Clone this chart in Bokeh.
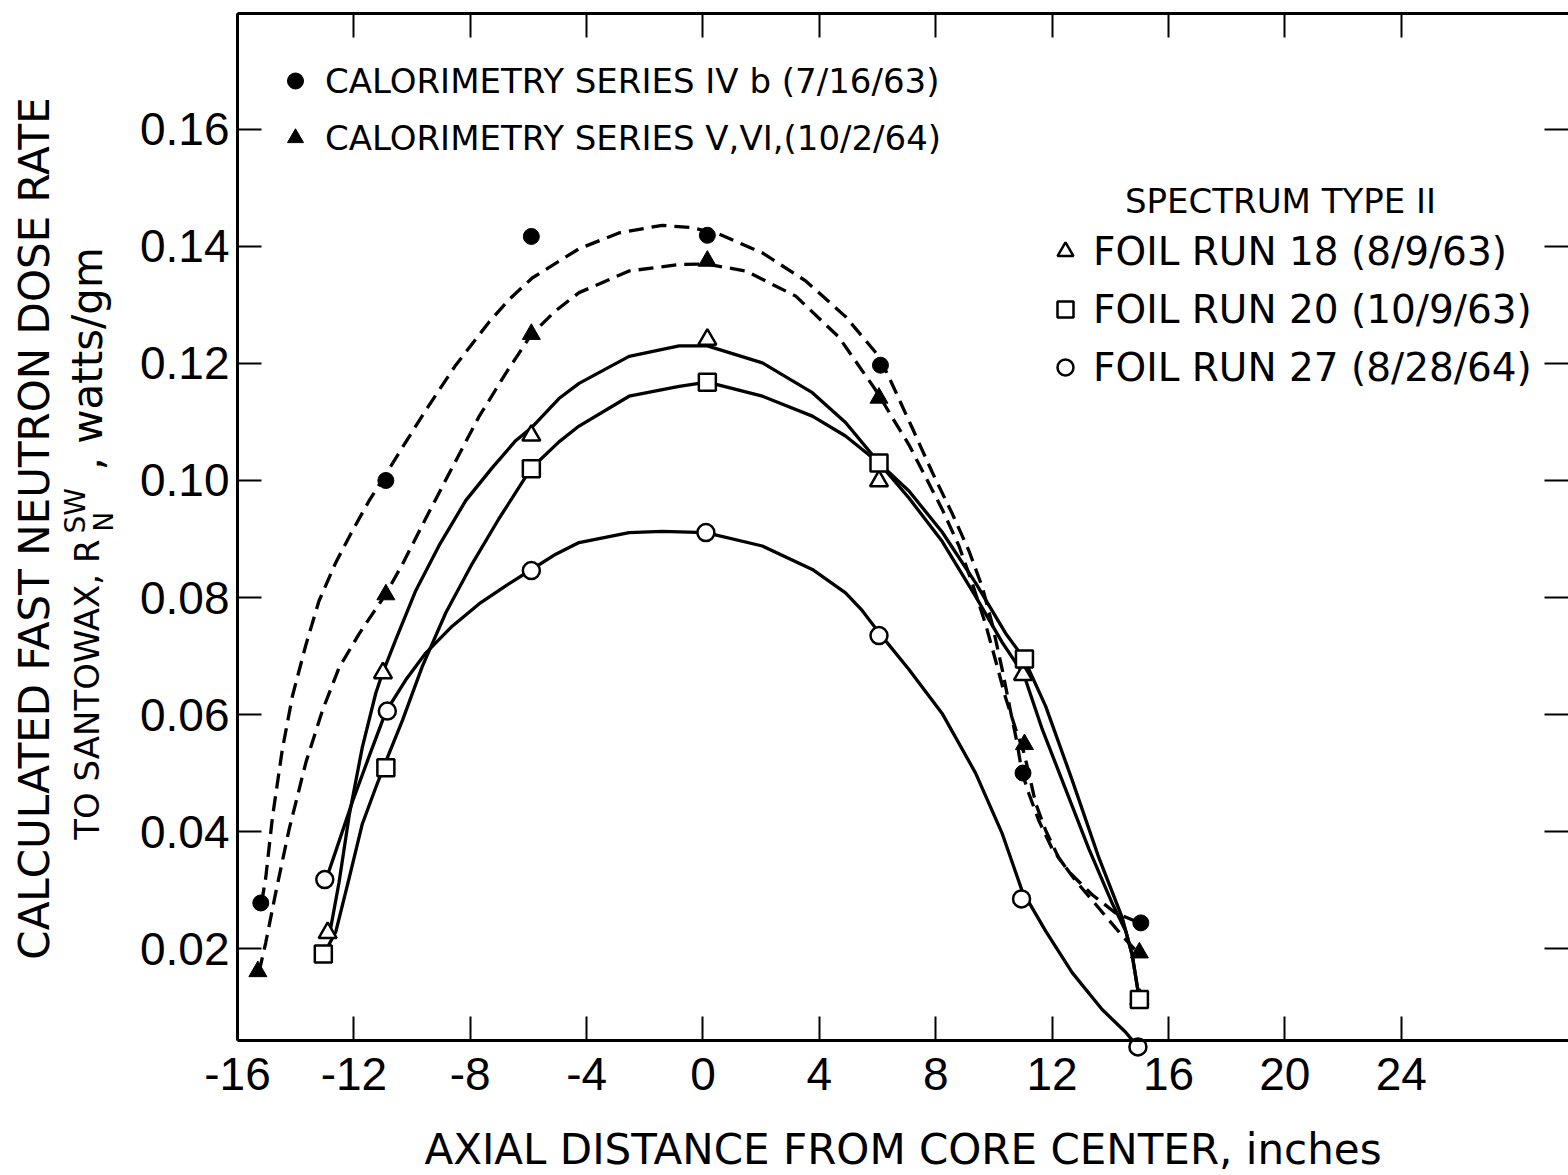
import math
from bokeh.plotting import figure
from bokeh.models import (Range1d, LinearAxis, FixedTicker, PrintfTickFormatter,
                          Legend, LegendItem, Label)
from bokeh.embed import file_html
from bokeh.resources import INLINE

# ---------------- data ----------------
x_tick_values = [-16, -12, -8, -4, 0, 4, 8, 12, 16, 20, 24]
y_tick_values = [0.02, 0.04, 0.06, 0.08, 0.10, 0.12, 0.14, 0.16]

x_title = "AXIAL DISTANCE FROM CORE CENTER, inches"
y_title_line1 = "CALCULATED FAST NEUTRON DOSE RATE"
y_title_line2_main = "TO SANTOWAX, R"
y_title_sup = "SW"
y_title_sub = "N"
y_title_line2_tail = ", watts/gm"

cal_labels = ["CALORIMETRY SERIES IV b (7/16/63)",
              "CALORIMETRY SERIES V,VI,(10/2/64)"]
spectrum_title = "SPECTRUM TYPE II"
foil_labels = ["FOIL RUN 18 (8/9/63)",
               "FOIL RUN 20 (10/9/63)",
               "FOIL RUN 27 (8/28/64)"]

# measured points
cal_ivb_x = [-15.2, -10.9, -5.9, 0.15, 6.1, 11.0, 15.05]
cal_ivb_y = [0.0278, 0.100, 0.1417, 0.1419, 0.1197, 0.0500, 0.0244]
cal_vvi_x = [-15.3, -10.9, -5.9, 0.15, 6.05, 11.05, 15.0]
cal_vvi_y = [0.0161, 0.0805, 0.1250, 0.1375, 0.1141, 0.0549, 0.0193]
foil18_x = [-12.9, -11.0, -5.9, 0.15, 6.05, 11.0, 15.0]
foil18_y = [0.0227, 0.0671, 0.1077, 0.1241, 0.0999, 0.0668, 0.0113]
foil20_x = [-13.05, -10.9, -5.9, 0.15, 6.05, 11.05, 15.0]
foil20_y = [0.0191, 0.0509, 0.1020, 0.1168, 0.1030, 0.0695, 0.0113]
foil27_x = [-13.0, -10.85, -5.9, 0.1, 6.05, 10.95, 14.95]
foil27_y = [0.0318, 0.0606, 0.0846, 0.0911, 0.0735, 0.0285, 0.0032]

# hand-drawn fitted curves
curve_ivb_x = [-15.17, -15.03, -14.8, -14.46, -14.11, -13.65, -13.2, -12.62, -12.05, -11.48,
               -10.9, -10.45, -9.53, -8.5, -7.35, -6.67, -5.87, -4.26, -2.89, -1.4,
               -0.37, 0.55, 2.04, 3.53, 4.9, 6.05, 6.5, 7.19, 7.88, 8.57,
               9.14, 9.6, 9.94, 10.29, 10.57, 10.8, 10.96, 11.2, 11.55, 12.0,
               12.58, 13.38, 14.18, 15.0]
curve_ivb_y = [0.0279, 0.0321, 0.0424, 0.0540, 0.0632, 0.0719, 0.0794, 0.0860, 0.0914, 0.0965,
               0.1011, 0.1047, 0.1120, 0.1197, 0.1271, 0.1309, 0.1346, 0.1396, 0.1423, 0.1436,
               0.1432, 0.1421, 0.1389, 0.1341, 0.1280, 0.1212, 0.1165, 0.1090, 0.1014, 0.0943,
               0.0880, 0.0818, 0.0755, 0.0676, 0.0606, 0.0551, 0.0502, 0.0465, 0.0418, 0.0371,
               0.0331, 0.0292, 0.0261, 0.0244]

curve_vvi_x = [-15.26, -15.03, -14.68, -14.23, -13.65, -13.08, -12.51, -11.82, -11.36, -10.9,
               -10.33, -9.53, -8.62, -7.7, -6.78, -5.92, -5.09, -4.26, -2.54, -0.82,
               0.1, 1.47, 3.19, 4.67, 6.0, 6.5, 7.08, 7.65, 8.22, 8.8,
               9.25, 9.71, 10.06, 10.4, 10.75, 11.03, 11.2, 11.43, 11.78, 12.23,
               12.81, 13.61, 14.41, 14.95]
curve_vvi_y = [0.0160, 0.0210, 0.0297, 0.0403, 0.0518, 0.0607, 0.0680, 0.0738, 0.0772, 0.0806,
               0.0857, 0.0935, 0.1022, 0.1109, 0.1183, 0.1248, 0.1289, 0.1321, 0.1358, 0.1369,
               0.1370, 0.1358, 0.1315, 0.1245, 0.1150, 0.1108, 0.1061, 0.1006, 0.0951, 0.0888,
               0.0825, 0.0755, 0.0692, 0.0629, 0.0575, 0.0535, 0.0500, 0.0449, 0.0402, 0.0355,
               0.0316, 0.0269, 0.0222, 0.0193]

curve_f18_x = [-12.85, -12.51, -12.16, -11.71, -11.25, -11.02, -10.56, -9.87, -9.07, -8.15,
               -7.24, -6.44, -5.9, -4.95, -4.26, -2.54, -0.82, 0.15, 2.04, 3.76,
               4.9, 6.05, 7.08, 8.22, 9.37, 10.29, 11.03, 11.66, 12.46, 13.26,
               14.07, 14.53, 14.75, 15.0]
curve_f18_y = [0.0221, 0.0313, 0.0428, 0.0544, 0.0636, 0.0670, 0.0728, 0.0812, 0.0889, 0.0966,
               0.1022, 0.1068, 0.1090, 0.1140, 0.1166, 0.1212, 0.1230, 0.1230, 0.1201, 0.1150,
               0.1099, 0.1030, 0.0970, 0.0896, 0.0802, 0.0723, 0.0668, 0.0575, 0.0473, 0.0371,
               0.0277, 0.0230, 0.0190, 0.0113]

curve_f20_x = [-13.08, -12.62, -12.16, -11.71, -11.25, -10.9, -10.33, -9.65, -8.84, -7.93,
               -7.01, -6.21, -5.92, -4.95, -4.26, -2.54, -0.82, 0.15, 2.04, 3.76,
               4.9, 6.05, 7.08, 8.22, 9.37, 10.4, 11.03, 11.78, 12.69, 13.61,
               14.41, 14.75, 15.0]
curve_f20_y = [0.0186, 0.0229, 0.0321, 0.0413, 0.0475, 0.0520, 0.0590, 0.0682, 0.0774, 0.0858,
               0.0935, 0.0997, 0.1020, 0.1066, 0.1093, 0.1144, 0.1161, 0.1168, 0.1144, 0.1110,
               0.1076, 0.1030, 0.0982, 0.0912, 0.0825, 0.0739, 0.0696, 0.0614, 0.0488, 0.0355,
               0.0253, 0.0190, 0.0113]

curve_f27_x = [-12.99, -12.62, -12.05, -11.48, -10.9, -10.22, -9.53, -8.62, -7.7, -6.78,
               -5.92, -5.06, -4.26, -2.54, -1.4, 0.1, 2.04, 3.76, 4.9, 5.47,
               6.05, 7.08, 8.22, 9.37, 10.29, 10.96, 11.78, 12.69, 13.72, 14.53,
               14.93]
curve_f27_y = [0.0313, 0.0367, 0.0451, 0.0528, 0.0605, 0.0659, 0.0705, 0.0751, 0.0789, 0.0820,
               0.0847, 0.0874, 0.0894, 0.0911, 0.0913, 0.0911, 0.0888, 0.0848, 0.0808, 0.0778,
               0.0740, 0.0677, 0.0602, 0.0500, 0.0396, 0.0300, 0.0230, 0.0159, 0.0096, 0.0057,
               0.0033]

# ---------------- layout ----------------
W, H = 1568, 1175
X_LO, X_HI = -16.0, 29.75          # plotted box, data units
Y_LO, Y_HI = 0.0043, 0.1798
BOX_L, BOX_R, BOX_T, BOX_B = 237, 1568, 13, 1040   # plotted box, canvas pixels
PX_X = (BOX_R - BOX_L) / (X_HI - X_LO)
PX_Y = (BOX_B - BOX_T) / (Y_HI - Y_LO)
XR0 = X_LO - BOX_L / PX_X
XR1 = XR0 + W / PX_X
YR1 = Y_HI + BOX_T / PX_Y
YR0 = YR1 - H / PX_Y

TEXT_FONT = "DejaVu Sans"
NUM_FONT = "Liberation Sans"


def sx(px):
    return XR0 + px / PX_X


def sy(py):
    return YR1 - py / PX_Y


p = figure(width=W, height=H, x_range=Range1d(XR0, XR1), y_range=Range1d(YR0, YR1),
           output_backend="svg", toolbar_location=None,
           x_axis_location=None, y_axis_location=None, min_border=0)
p.outline_line_color = None
p.grid.visible = False
p.background_fill_color = "white"
p.border_fill_color = "white"


def make_axis(ticks, loc, bounds, fmt=None, font_size="0px"):
    ax = LinearAxis(fixed_location=loc, bounds=bounds)
    ax.ticker = FixedTicker(ticks=ticks)
    ax.major_tick_in = 24
    ax.major_tick_out = 0
    ax.minor_tick_line_color = None
    ax.major_tick_line_width = 2
    ax.major_tick_line_color = "black"
    ax.axis_line_width = 3
    ax.axis_line_color = "black"
    if fmt is not None:
        ax.formatter = PrintfTickFormatter(format=fmt)
    ax.major_label_text_font = NUM_FONT
    ax.major_label_text_font_size = font_size
    ax.major_label_text_color = "black" if font_size != "0px" else None
    return ax


xb = make_axis(x_tick_values, Y_LO, (X_LO, X_HI), "%d", "46px")
xb.major_label_standoff = 17
xb.axis_label = x_title
xb.axis_label_text_font = TEXT_FONT
xb.axis_label_text_font_size = "42px"
xb.axis_label_text_font_style = "normal"
xb.axis_label_text_color = "black"
xb.axis_label_standoff = 32
p.add_layout(xb, "below")

yl = make_axis(y_tick_values, X_LO, (Y_LO, Y_HI), "%.2f", "46px")
yl.major_label_standoff = 8
p.add_layout(yl, "left")

xt = make_axis(x_tick_values, Y_HI, (X_LO, X_HI))
xt.major_label_standoff = 0
p.add_layout(xt, "above")

yr = make_axis(y_tick_values, X_HI, (Y_LO, Y_HI))
yr.axis_line_color = None
yr.major_label_standoff = 0
p.add_layout(yr, "right")

# ---------------- curves ----------------
DASH = "15 8"
LW = 3.3
p.line(curve_ivb_x, curve_ivb_y, line_color="black", line_width=LW, line_dash=DASH, line_join="round")
p.line(curve_vvi_x, curve_vvi_y, line_color="black", line_width=LW, line_dash=DASH, line_join="round")
p.line(curve_f18_x, curve_f18_y, line_color="black", line_width=LW, line_join="round")
p.line(curve_f20_x, curve_f20_y, line_color="black", line_width=LW, line_join="round")
p.line(curve_f27_x, curve_f27_y, line_color="black", line_width=LW, line_join="round")

# ---------------- markers ----------------
r_ivb = p.scatter(cal_ivb_x, cal_ivb_y, marker="circle", size=16,
                  fill_color="black", line_color="black", line_width=1)
r_vvi = p.scatter(cal_vvi_x, cal_vvi_y, marker="triangle", size=18,
                  fill_color="black", line_color="black", line_width=1)
r_f18 = p.scatter(foil18_x, foil18_y, marker="triangle", size=18,
                  fill_color="white", line_color="black", line_width=2.5)
r_f20 = p.scatter(foil20_x, foil20_y, marker="square", size=17,
                  fill_color="white", line_color="black", line_width=2.5)
r_f27 = p.scatter(foil27_x, foil27_y, marker="circle", size=17,
                  fill_color="white", line_color="black", line_width=2.5)

# ---------------- legends ----------------
leg_cal = Legend(items=[LegendItem(label=cal_labels[0], renderers=[r_ivb]),
                        LegendItem(label=cal_labels[1], renderers=[r_vvi])],
                 location=(275, 1009), margin=0, padding=0,
                 glyph_width=40, glyph_height=57, spacing=0, label_standoff=10,
                 label_text_font=TEXT_FONT, label_text_font_size="34px",
                 label_text_color="black",
                 border_line_color=None, background_fill_alpha=0)
p.add_layout(leg_cal)

leg_foil = Legend(items=[LegendItem(label=foil_labels[0], renderers=[r_f18]),
                         LegendItem(label=foil_labels[1], renderers=[r_f20]),
                         LegendItem(label=foil_labels[2], renderers=[r_f27])],
                  location=(1045, 779), margin=0, padding=0,
                  glyph_width=40, glyph_height=58, spacing=0, label_standoff=8,
                  label_text_font=TEXT_FONT, label_text_font_size="39px",
                  label_text_color="black",
                  border_line_color=None, background_fill_alpha=0)
p.add_layout(leg_foil)

p.add_layout(Label(x=sx(1280), y=sy(200), text=spectrum_title,
                   text_align="center", text_baseline="middle",
                   text_font=TEXT_FONT, text_font_size="34px", text_color="black"))

# ---------------- rotated y-axis title ----------------
V = math.pi / 2
p.add_layout(Label(x=sx(34), y=sy(528), text=y_title_line1, angle=V,
                   text_align="center", text_baseline="middle",
                   text_font=TEXT_FONT, text_font_size="42px", text_color="black"))
p.add_layout(Label(x=sx(86), y=sy(539), text=y_title_line2_main, angle=V,
                   text_align="right", text_baseline="middle",
                   text_font=TEXT_FONT, text_font_size="34px", text_color="black"))
p.add_layout(Label(x=sx(75), y=sy(533), text=y_title_sup, angle=V,
                   text_align="left", text_baseline="middle",
                   text_font=TEXT_FONT, text_font_size="28px", text_color="black"))
p.add_layout(Label(x=sx(103), y=sy(531), text=y_title_sub, angle=V,
                   text_align="left", text_baseline="middle",
                   text_font=TEXT_FONT, text_font_size="26px", text_color="black"))
p.add_layout(Label(x=sx(87), y=sy(470), text=y_title_line2_tail, angle=V,
                   text_align="left", text_baseline="middle",
                   text_font=TEXT_FONT, text_font_size="42px", text_color="black"))

open("out.html", "w").write(file_html(p, INLINE))
